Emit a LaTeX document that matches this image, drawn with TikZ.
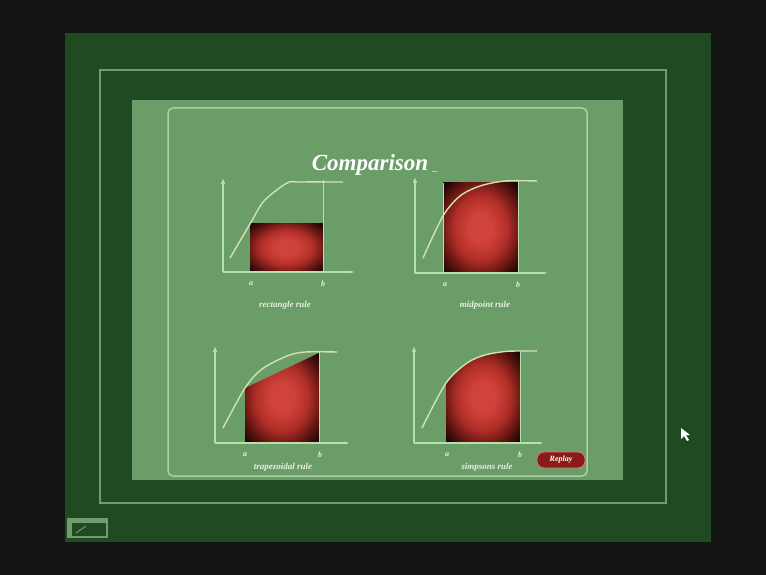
\documentclass[tikz,border=0pt]{standalone}
\usepackage{fontspec}
\setmainfont{Liberation Serif}
\usetikzlibrary{arrows.meta}
\definecolor{bg}{HTML}{121512}
\definecolor{dkgreen}{HTML}{204A21}
\definecolor{borderc}{HTML}{6E9E6B}
\definecolor{panel}{HTML}{6B9D69}
\definecolor{framec}{HTML}{A9D3A2}
\definecolor{axisc}{HTML}{B8E0AE}
\definecolor{curvec}{HTML}{D2E4A8}
\definecolor{labc}{HTML}{E6F2E0}
\definecolor{redc}{HTML}{D0433A}
\definecolor{redm}{HTML}{B02E28}
\definecolor{redq}{HTML}{5E1410}
\definecolor{redd}{HTML}{1A0504}
\definecolor{replayc}{HTML}{8A1C18}
\pgfdeclareradialshading{redglow}{\pgfpoint{0bp}{0bp}}{color(0bp)=(redc); color(8bp)=(redc); color(18bp)=(redm); color(27bp)=(redq); color(34bp)=(redd); color(50bp)=(redd)}
\begin{document}
\begin{tikzpicture}[x=1pt,y=-1pt,
  axisline/.style={draw=axisc, line width=1.4pt},
  yaxis/.style={axisline, -{Latex[length=6pt,width=5pt]}},
  xaxis/.style={axisline, -{Latex[length=5pt,width=3pt]}},
  curveline/.style={draw=curvec, line width=1.4pt},
  redfill/.style={shading=redglow},
  edgeline/.style={draw=axisc, line width=0.9pt},
  ablabel/.style={text=labc, font=\bfseries\itshape\fontsize{8}{9}\selectfont, inner sep=0pt},
  rulelabel/.style={text=labc, font=\bfseries\itshape\fontsize{9}{10}\selectfont, inner sep=0pt}]
\fill[bg] (0,0) rectangle (766,575);
\useasboundingbox (0,0) rectangle (766,575);
% frames
\fill[dkgreen] (65,33) rectangle (711,542);
\draw[borderc, line width=2pt] (100,70) rectangle (666,503);
\fill[panel] (132,100) rectangle (623,480);
\draw[framec, line width=1.5pt, rounded corners=5pt] (168,108) rectangle (587,476);
% title
\node[text=white, font=\bfseries\itshape\fontsize{23}{27}\selectfont, inner sep=0pt] (title) at (370,165) {Comparison};
\node[text=labc, font=\bfseries\itshape\fontsize{8}{9}\selectfont, inner sep=0pt, anchor=base west] (dots) at (432,172) {...};

% ---- chart 1: rectangle rule
\shade[redfill] (250,223) rectangle (323,272);
\draw[edgeline] (323,180) -- (323,272);
\draw[curveline] plot[smooth] coordinates {(230,258) (250,224) (264,201) (287,183) (300,182) (343,182)};
\draw[yaxis] (223,272) -- (223,178);
\draw[xaxis] (223,272) -- (355,272);
\node[ablabel] (a1) at (251,284) {a};
\node[ablabel] (b1) at (323,284) {b};
\node[rulelabel] (r1) at (285,305) {rectangle rule};

% ---- chart 2: midpoint rule
\shade[redfill] (443,183) rectangle (518,273);
\draw[edgeline] (443,183) -- (443,273) (518,181) -- (518,273);
\draw[curveline] plot[smooth] coordinates {(423,258) (443,216) (460,196) (480,186) (505,181) (537,181)};
\draw[yaxis] (415,273) -- (415,177);
\draw[xaxis] (415,273) -- (548,273);
\node[ablabel] (a2) at (445,285) {a};
\node[ablabel] (b2) at (518,285) {b};
\node[rulelabel] (r2) at (485,305) {midpoint rule};

% ---- chart 3: trapezoidal rule
\shade[redfill] (245,443) -- (245,388) -- (319,353) -- (319,443) -- cycle;
\draw[edgeline] (319,352) -- (319,443);
\draw[curveline] plot[smooth] coordinates {(223,428) (245,388) (262,369) (287,356) (305,352) (337,352)};
\draw[yaxis] (215,443) -- (215,346);
\draw[xaxis] (215,443) -- (350,443);
\node[ablabel] (a3) at (245,455) {a};
\node[ablabel] (b3) at (320,455) {b};
\node[rulelabel] (r3) at (283,467) {trapezoidal rule};

% ---- chart 4: simpsons rule
\shade[redfill] (446,443) -- plot[smooth] coordinates {(446,383) (467,363) (485,355) (505,351.5) (520,351)} -- (520,443) -- cycle;
\draw[edgeline] (520,351) -- (520,443);
\draw[curveline] plot[smooth] coordinates {(422,428) (446,383) (467,363) (485,355) (505,351.5) (520,351) (537,351)};
\draw[yaxis] (414,443) -- (414,346);
\draw[xaxis] (414,443) -- (544,443);
\node[ablabel] (a4) at (447,455) {a};
\node[ablabel] (b4) at (520,455) {b};
\node[rulelabel] (r4) at (487,467) {simpsons rule};

% replay button
\node[fill=replayc, draw=redc!70!white, line width=0.8pt, rounded corners=7pt, minimum width=48pt, minimum height=16pt, inner sep=0pt, text=white, font=\bfseries\itshape\fontsize{8}{9}\selectfont] (replay) at (561,460) {Replay};

% bottom-left icon
\fill[borderc] (67,518) rectangle (108,538);
\fill[dkgreen] (72,523) rectangle (106,536);
\draw[borderc, line width=1pt] (76,533) -- (86,526);

% mouse cursor
\fill[white] (681,428) -- (681,439) -- (684,436) -- (687,441) -- (689,440) -- (686,435) -- (690,435) -- cycle;
\end{tikzpicture}
\end{document}
